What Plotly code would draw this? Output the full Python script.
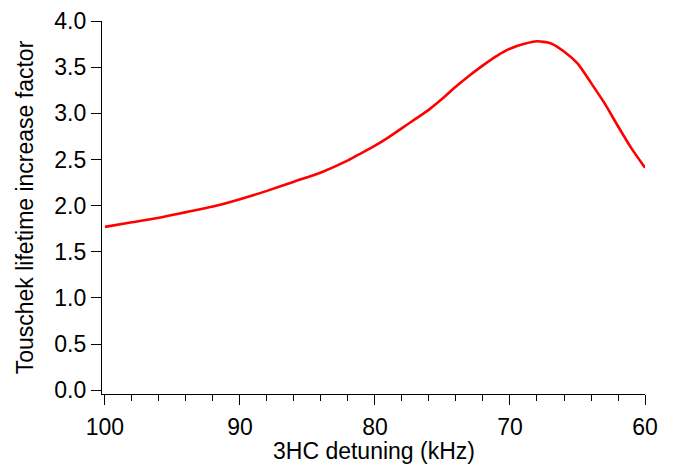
import plotly.graph_objects as go

detuning_khz = [100, 98, 96, 94, 92, 90, 88, 86, 84, 82, 81, 80, 79, 78, 77, 76, 75, 74,
                73, 72, 71, 70, 69, 68, 67, 66, 65, 64, 63, 62, 61, 60]
lifetime_factor = [1.77, 1.82, 1.87, 1.93, 1.99, 2.07, 2.16, 2.26, 2.36, 2.49, 2.57, 2.65,
                   2.74, 2.84, 2.94, 3.04, 3.16, 3.29, 3.41, 3.52, 3.62, 3.70, 3.75,
                   3.78, 3.76, 3.67, 3.54, 3.33, 3.11, 2.86, 2.62, 2.41]

x_ticks = [100, 90, 80, 70, 60]
y_ticks = [0.0, 0.5, 1.0, 1.5, 2.0, 2.5, 3.0, 3.5, 4.0]

FONT = "Liberation Sans, Arial, Helvetica, sans-serif"

fig = go.Figure()
fig.add_trace(go.Scatter(
    x=detuning_khz, y=lifetime_factor, mode="lines",
    line=dict(color="#ff0000", width=2.6, shape="spline", smoothing=0.6),
    showlegend=False,
))

fig.update_layout(
    width=673, height=466,
    margin=dict(l=102, r=28, t=21, b=72),
    paper_bgcolor="white", plot_bgcolor="white",
    font=dict(family=FONT, size=23, color="black"),
)
fig.update_xaxes(
    automargin=False,
    range=[100.22, 60], tickvals=x_ticks, ticktext=[str(v) for v in x_ticks],
    showgrid=False, zeroline=False, showline=True, linecolor="black", linewidth=1.3,
    ticks="outside", ticklen=10, tickwidth=1.3, tickcolor="black",
    ticklabelstandoff=2,
    minor=dict(ticks="outside", ticklen=6, tickwidth=1.3, tickcolor="black", dtick=2, showgrid=False),
    tickfont=dict(size=23),
)
fig.update_yaxes(
    automargin=False,
    range=[-0.04, 4.0], tickvals=y_ticks, ticktext=[f"{v:.1f}" for v in y_ticks],
    showgrid=False, zeroline=False, showline=True, linecolor="black", linewidth=1.3,
    ticks="outside", ticklen=10, tickwidth=1.3, tickcolor="black",
    title=dict(text="Touschek lifetime increase factor", font=dict(size=23), standoff=14),
    tickfont=dict(size=23),
)
fig.add_annotation(
    text="3HC detuning (kHz)", xref="paper", yref="paper", x=0.5, y=-0.193,
    xanchor="center", yanchor="bottom", showarrow=False, font=dict(size=23),
)

fig.write_html("out.html")
